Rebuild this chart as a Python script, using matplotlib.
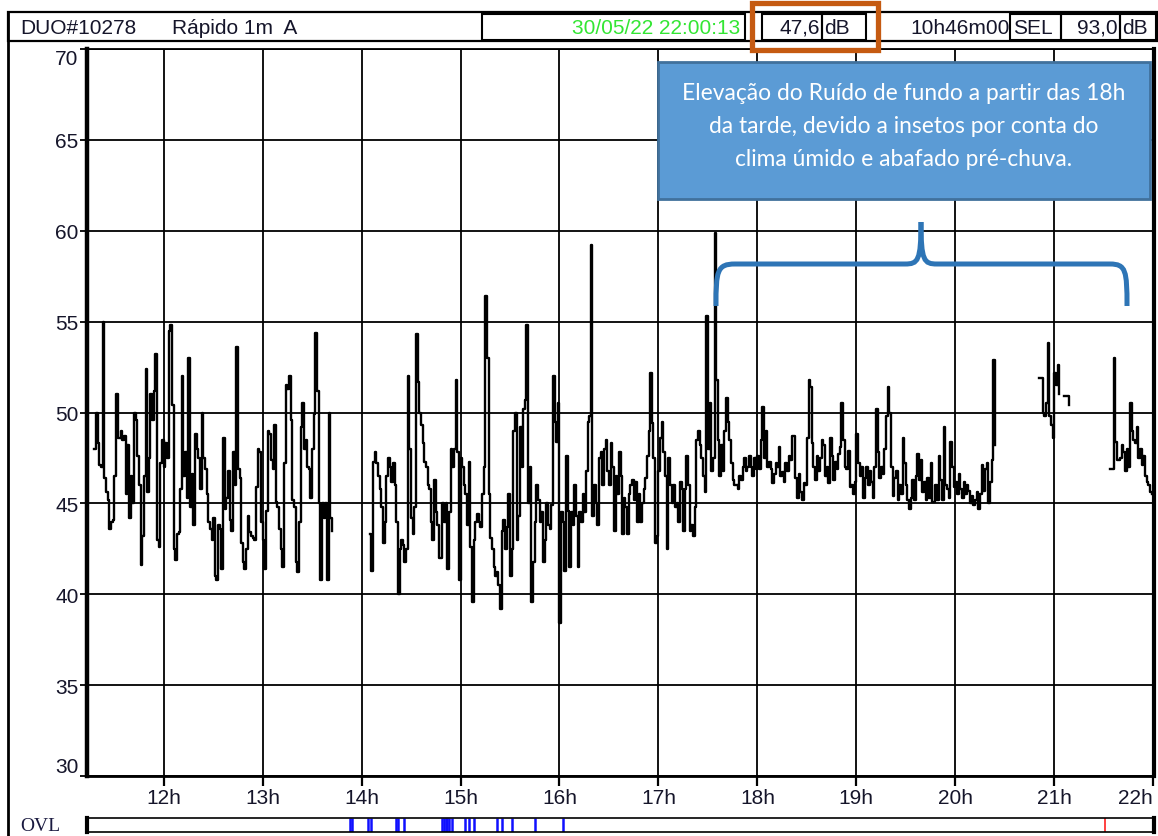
import numpy as np
import matplotlib
matplotlib.use("Agg")
import matplotlib.pyplot as plt
import matplotlib.transforms as mtransforms
from matplotlib.patches import Rectangle, PathPatch
from matplotlib.path import Path

W, H, DPI = 1158, 837, 100

# ---------------------------------------------------------------------------
# 1-minute LAeq values (dB), one list per continuous stretch of recording
# ---------------------------------------------------------------------------
seg_a_start = "11:18"
seg_a = [
    48.0, 50.0, 48.3, 47.1, 47.0, 55.0, 46.4, 45.6, 45.2, 43.6,
    44.0, 44.1, 46.5, 51.0, 48.6, 48.6, 49.0, 48.5, 48.7, 45.5,
    48.2, 44.2, 46.5, 45.0, 50.0, 49.6, 47.6, 46.0, 41.6, 43.2,
    46.5, 52.4, 45.6, 47.5, 51.0, 49.6, 51.2, 53.2, 43.0, 42.6,
    47.2, 48.5, 47.0, 48.3, 47.5, 54.5, 54.8, 50.4, 42.5, 41.9,
    43.3, 43.4, 45.8, 52.0, 46.5, 47.8, 45.3, 53.0, 44.8, 46.6,
    43.8, 48.8, 48.0, 47.5, 45.8, 50.0, 47.5, 46.9, 45.5, 44.0,
    43.6, 43.0, 44.2, 41.0, 40.8, 43.8, 43.6, 41.4, 48.6, 44.7,
    45.3, 46.8, 44.1, 43.5, 47.8, 46.0, 53.6, 46.9, 46.4, 42.8,
    41.8, 41.4, 42.5, 44.3, 43.4, 43.2, 43.1, 43.0, 45.9, 48.0,
    47.8, 44.0, 43.0, 41.4, 44.6, 49.0, 48.8, 47.4, 46.9, 49.3,
    45.1, 44.8, 43.6, 42.5, 41.5, 47.2, 51.5, 51.3, 52.0, 49.6,
    45.2, 44.8, 41.8, 41.2, 44.0, 49.2, 50.5, 48.0, 48.5, 47.0,
    46.9, 45.3, 48.0, 49.9, 54.4, 51.2, 45.0, 40.8, 45.0, 44.2,
    45.0, 40.8, 50.0, 44.2, 43.5,
]

seg_b_start = "14:05"
seg_b = [
    # 14:05 - 15:59
    43.3, 41.3, 47.3, 47.8, 47.2, 46.5, 45.8, 44.8, 42.8, 44.0,
    46.5, 47.5, 47.0, 46.2, 47.2, 46.0, 44.0, 40.0, 42.5, 43.0,
    42.7, 41.8, 42.5, 52.0, 48.0, 44.2, 43.3, 44.8, 54.3, 51.7,
    50.0, 49.3, 48.3, 47.3, 47.0, 46.0, 45.8, 44.0, 43.0, 46.3,
    44.5, 43.8, 42.0, 42.0, 45.0, 44.0, 45.0, 41.4, 44.5, 48.0,
    47.0, 48.0, 51.8, 47.8, 40.8, 47.5, 47.0, 46.0, 45.5, 43.8,
    47.3, 42.6, 39.6, 43.0, 44.0, 44.4, 44.0, 43.7, 45.5, 47.0,
    56.4, 53.0, 45.5, 43.1, 42.5, 41.5, 41.0, 41.2, 40.5, 39.2,
    43.5, 44.1, 42.5, 43.7, 45.5, 41.0, 42.5, 49.0, 50.0, 43.0,
    44.3, 49.2, 47.0, 50.2, 50.7, 54.8, 45.0, 47.0, 39.6, 41.8,
    44.0, 46.0, 45.2, 44.0, 44.5, 41.8, 43.0, 45.0, 43.8, 43.6,
    44.9, 52.0, 49.5, 48.4, 50.5,
    # 16:00 - 17:59
    38.4, 44.5, 44.0, 41.3, 47.6, 44.6, 41.5, 44.5, 43.8, 46.0,
    44.3, 41.5, 44.5, 44.0, 45.5, 44.5, 46.8, 49.5, 49.8, 59.2,
    44.3, 46.0, 45.0, 43.8, 47.5, 47.8, 46.0, 48.0, 48.5, 46.8,
    46.0, 48.3, 47.0, 43.5, 46.5, 45.5, 47.8, 46.5, 43.3, 45.3,
    44.8, 43.3, 45.5, 46.0, 46.3, 45.2, 46.2, 44.0, 45.5, 44.0,
    45.0, 45.8, 46.4, 47.6, 49.0, 52.2, 49.4, 47.5, 42.8, 43.2,
    46.8, 48.6, 49.5, 47.8, 46.5, 42.5, 47.5, 46.0, 45.0, 46.0,
    44.8, 45.0, 44.0, 46.2, 45.8, 43.5, 45.8, 47.6, 46.0, 43.5,
    43.8, 43.2, 44.8, 48.5, 49.0, 48.2, 47.5, 46.5, 45.6, 55.3,
    48.0, 50.5, 46.8, 47.5, 59.9, 51.8, 48.5, 46.5, 48.2, 46.8,
    49.0, 50.8, 49.5, 48.5, 47.2, 46.3, 46.0, 46.0, 45.8, 46.5,
    46.3, 47.0, 47.5, 46.8, 47.0, 47.6, 47.0, 46.5, 47.5, 46.9,
    # 18:00 - 20:24
    47.6, 46.9, 48.5, 50.3, 47.5, 49.0, 47.0, 47.3, 46.9, 46.1,
    46.6, 47.2, 47.0, 48.1, 46.5, 46.7, 46.2, 47.2, 46.8, 47.6,
    47.4, 48.7, 48.7, 46.4, 45.3, 46.6, 45.6, 45.2, 46.1, 46.0,
    48.6, 51.8, 51.4, 48.3, 47.0, 46.3, 47.6, 46.8, 47.5, 48.5,
    48.2, 46.5, 47.0, 46.1, 48.6, 47.6, 46.3, 47.3, 46.9, 47.7,
    48.1, 50.5, 48.5, 47.0, 46.9, 47.9, 45.9, 46.0, 45.5, 46.2,
    48.8, 47.2, 46.5, 47.0, 45.3, 46.4, 47.0, 46.0, 46.8, 46.2,
    45.3, 47.0, 50.2, 47.8, 46.4, 47.0, 46.6, 48.0, 49.8, 51.4,
    50.0, 47.0, 45.4, 46.4, 46.8, 45.2, 46.0, 45.5, 48.6, 47.2,
    46.0, 45.2, 44.7, 45.3, 46.3, 45.2, 46.5, 47.7, 46.3, 47.4,
    45.6, 46.2, 45.2, 46.4, 45.3, 47.2, 45.1, 45.1, 46.0, 45.2,
    47.6, 46.3, 45.2, 49.2, 46.0, 45.8, 45.3, 48.4, 47.0, 45.9,
    46.2, 45.5, 46.6, 45.8, 45.3, 46.2, 45.5, 46.0, 45.7, 45.0,
    45.4, 44.9, 45.2, 45.6, 44.7, 45.5, 47.1, 45.7, 46.9, 47.2,
    45.0, 46.2, 47.4, 52.9, 48.2,
]

seg_c1_start = "20:51"
seg_c1 = [51.9, 51.9, 50.0, 49.8, 50.5, 53.8, 49.8, 49.3, 48.6, 52.2,
          51.5, 52.6, 51.0]

seg_c2_start = "21:06"
seg_c2 = [50.9, 50.9, 50.9, 50.4]

seg_d_start = "21:34"
seg_d = [46.9, 46.9, 53.0, 48.4, 47.4, 47.4, 47.5, 48.2, 47.8, 46.8,
         48.0, 47.0, 50.5, 49.0, 48.5, 48.3, 49.2, 47.5, 48.0, 47.1,
         47.6, 46.5, 46.2, 46.0, 45.6, 45.5]

# overload flags
ovl_blue = ["13:53", "13:54", "14:04", "14:06", "14:21", "14:22", "14:26",
            "14:49", "14:50", "14:51", "14:52", "14:53", "14:55", "15:03",
            "15:05", "15:08", "15:22", "15:25", "15:31", "15:45", "16:02"]
ovl_red = ["21:31"]

hour_ticks = list(range(12, 23))
hour_labels = [f"{h}h" for h in hour_ticks]
db_ticks = [30, 35, 40, 45, 50, 55, 60, 65, 70]

t_start, t_end = "11:13.5", "22:00.5"

header_left = ["DUO#10278", "Rápido 1m  A"]
header_date = "30/05/22 22:00:13"
header_level, header_unit = "47,6", "dB"
header_duration = "10h46m00"
header_sel_label, header_sel, header_sel_unit = "SEL", "93,0", "dB"

note_lines = ["Elevação do Ruído de fundo a partir das 18h",
              "da tarde, devido a insetos por conta do",
              "clima úmido e abafado pré-chuva."]


def hours(s):
    hh, mm = s.split(":")
    return int(hh) + float(mm) / 60.0


def minute_axis(start, values):
    return hours(start) + np.arange(len(values)) / 60.0


plt.rcParams["font.family"] = ["Liberation Sans", "DejaVu Sans"]
TXT = "#15152a"

fig = plt.figure(figsize=(W / DPI, H / DPI), dpi=DPI)
# pixel coordinates with origin at the top-left corner
px = mtransforms.Affine2D().scale(1 / W, -1 / H).translate(0, 1) + fig.transFigure

# ---------------------------------------------------------------- main plot
x0, x1, y0, y1 = 87, 1154, 50, 777
ax = fig.add_axes([x0 / W, 1 - y1 / H, (x1 - x0) / W, (y1 - y0) / H])
ax.set_xlim(hours(t_start), hours(t_end))
ax.set_ylim(30, 70)

for start, vals in [(seg_a_start, seg_a), (seg_b_start, seg_b),
                    (seg_c1_start, seg_c1), (seg_c2_start, seg_c2),
                    (seg_d_start, seg_d)]:
    ax.step(minute_axis(start, vals), vals, where="post",
            color="black", lw=1.7, zorder=3)

ax.set_yticks(db_ticks)
ax.set_yticklabels([str(v) for v in db_ticks])
ax.set_xticks(hour_ticks)
ax.set_xticklabels(hour_labels)
ax.grid(True, color="black", lw=1.3, zorder=1)
ax.tick_params(axis="y", direction="out", length=5, width=1.3, pad=1,
               labelsize=15, labelcolor=TXT)
ax.tick_params(axis="x", direction="out", length=7, width=1.6, pad=2,
               labelsize=15, labelcolor=TXT)
ylabels = ax.get_yticklabels()
ylabels[0].set_va("bottom")
ylabels[-1].set_va("top")
xlabels = ax.get_xticklabels()
xlabels[-1].set_ha("right")
xlabels[-1].set_x(hours(t_end) + 0.04)
for side, lw in [("left", 3.2), ("right", 3.0), ("bottom", 2.0), ("top", 1.3)]:
    ax.spines[side].set_linewidth(lw)
    ax.spines[side].set_color("black")

# ---------------------------------------------------------------- OVL strip
ovl = fig.add_axes([x0 / W, 1 - 833 / H, (x1 - x0) / W, 14 / H])
ovl.set_xlim(ax.get_xlim())
ovl.set_ylim(0, 1)
ovl.set_xticks([])
ovl.set_yticks([])
ovl.vlines([hours(t) for t in ovl_blue], 0, 1, color="#1010ff", lw=1.8)
ovl.vlines([hours(t) for t in ovl_red], 0, 1, color="#ff2020", lw=1.2)
for side, lw in [("left", 3.0), ("right", 3.0), ("bottom", 1.2), ("top", 1.2)]:
    ovl.spines[side].set_linewidth(lw)
fig.text(20, 827, "OVL", transform=px, family="Liberation Serif",
         fontsize=14, color="#1a1a40", va="center", ha="left")

# ---------------------------------------------------------------- header bar
def box(xa, ya, xb, yb, lw=1.5, ec="black"):
    fig.add_artist(Rectangle((xa, ya), xb - xa, yb - ya, transform=px,
                             fill=False, ec=ec, lw=lw))

fig.add_artist(plt.Line2D([8, 8], [13, 837], transform=px, color="black", lw=2))
box(8, 13, 1158, 42, lw=1.6)
fig.text(20, 28, header_left[0], transform=px, fontsize=15, color=TXT, va="center")
fig.text(172, 28, header_left[1], transform=px, fontsize=15, color=TXT, va="center")
box(482, 15, 745, 41)
fig.text(740, 28, header_date, transform=px, fontsize=15, color="#33e633",
         va="center", ha="right")
box(762, 15, 822, 41)
box(822, 15, 866, 41)
fig.text(820, 28, header_level, transform=px, fontsize=15, color=TXT,
         va="center", ha="right")
fig.text(824, 28, header_unit, transform=px, fontsize=15, color=TXT, va="center")
fig.text(1010, 28, header_duration, transform=px, fontsize=15, color=TXT,
         va="center", ha="right")
box(1010, 15, 1061, 41)
fig.text(1013, 28, header_sel_label, transform=px, fontsize=15, color=TXT, va="center")
box(1061, 15, 1120, 41)
fig.text(1118, 28, header_sel, transform=px, fontsize=15, color=TXT,
         va="center", ha="right")
box(1120, 15, 1156, 41)
fig.text(1122, 28, header_sel_unit, transform=px, fontsize=15, color=TXT, va="center")

# highlight around the current level
fig.add_artist(Rectangle((752, 4), 126, 47, transform=px, fill=False,
                         ec="#C55A11", lw=3.8))

# ---------------------------------------------------------------- annotation
fig.add_artist(Rectangle((658, 63), 492, 137, transform=px, fc="#5B9BD5",
                         ec="#41719C", lw=2, zorder=5))
for i, line in enumerate(note_lines):
    fig.text(904, 94 + 32.5 * i, line, transform=px, family="Lato",
             fontsize=16.4, color="white", ha="center", va="center", zorder=6)

brace_left = Path([(716, 307), (716, 272), (717, 265), (735, 265),
                   (905, 265), (918, 265), (921, 262), (921, 223)],
                  [Path.MOVETO, Path.CURVE4, Path.CURVE4, Path.CURVE4,
                   Path.LINETO, Path.CURVE4, Path.CURVE4, Path.CURVE4])
brace_right = Path([(921, 223), (921, 262), (924, 265), (937, 265),
                    (1110, 265), (1126, 265), (1127, 272), (1127, 307)],
                   [Path.MOVETO, Path.CURVE4, Path.CURVE4, Path.CURVE4,
                    Path.LINETO, Path.CURVE4, Path.CURVE4, Path.CURVE4])
for p in (brace_left, brace_right):
    fig.add_artist(PathPatch(p, transform=px, fill=False, ec="#2E75B6",
                             lw=3.6, capstyle="butt", zorder=6))

fig.savefig("out.png", dpi=DPI)
